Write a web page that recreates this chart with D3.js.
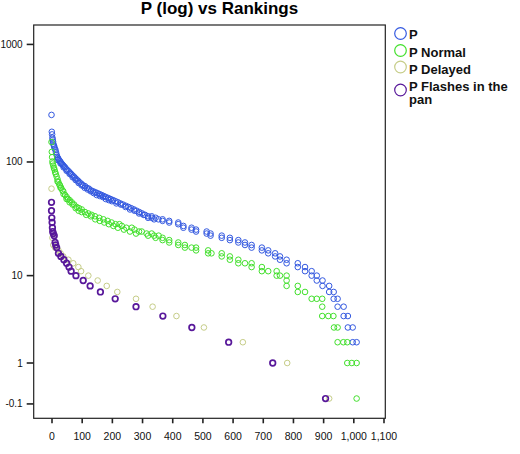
<!DOCTYPE html>
<html><head><meta charset="utf-8">
<script src="https://cdn.jsdelivr.net/npm/d3@7"></script>
<style>body{margin:0;background:#fff}svg{display:block}</style>
</head><body>
<script>
const pRank = [0,1,2,3,4,5,6,8,9,11,13,15,17,19,21,23,26,29,32,35,38,41,45,49,53,57,61,65,69,74,78,83,88,93,99,105,111,117,124,131,138,145,152,159,166,173,180,188,196,204,212,220,228,237,246,255,264,273,282,291,300,310,320,332,332,345,354,
 368,368,390,390,420,420,437,437,464,464,479,479,514,514,527,527,564,564,591,591,619,619,641,641,663,663,697,697,718,718,741,741,757,757,779,779,816,816,840,840,862,862,879,879,898,898,920,920,935,935,948,948,968,968,982,982,998,998,1011,
 20,30,40,50,60,70,80,90,100,110,120,130,140,150,160,170,180,190,200,215,230,245,260,275,290,305,320,340];
const pValue = [252,181,172,161,155,149,143,138,135,130,127,121,115,111,108,106,103,101,98,96,94,92,90,87,85,83,81,79,77,75,73,71,69,67,65,63,62,60,59,57,56,55,54,53,52,51,50,49,48,47,46,45,44,43,42,41,40,39,38,37,36,35,34,34,33,33,32,
 32,31,31,30,30,29,28,27,27,26,26,25,25,24,24,23,23,22,22,21,21,20,20,19,19,18,18,17,17,16,16,15,15,14,14,13,13,12,12,11,11,10,10,9,9,8,8,7,7,6,6,5,5,4,4,3,3,2,2,
 104,97,90,84,79,74,70,66,63,60,58,56,54,52,51,50,48,47,46,44,43,41,39,38,36,35,33,32];

const normalRank = [0,1,2,3,4,6,8,10,12,14,17,20,23,26,28,32,36,39,45,50,55,60,67,75,83,91,100,111,122,133,144,158,172,186,199,212,225,233,248,266,275,290,299,315,332,340,355,
 368,368,390,390,420,420,442,442,464,479,479,519,519,530,564,564,591,591,619,619,641,663,663,697,697,718,746,746,757,779,779,779,816,816,840,862,879,897,897,897,917,934,936,948,948,967,980,980,995,1011,1011,
 20,30,40,50,60,70,80,90,100,115,130,145,160,175,190,205,220,240,260,280,320,345];
const normalValue = [148,122,110,101,97,93,89,86,82,79,75,71,67,64,63,60,57,56,52,50,48,47,45,43,41,40,39,37,36,35,34,33,32,31,30,29,29,28,27,27,26,25,25,24,24,23,23,
 22,21,21,20,20,19,19,18,18,18,17,17,16,16,16,15,15,14,14,13,13,13,12,12,11,11,11,10,10,10,9,8,8,7,7,6,6,6,5,4,4,4,3,3,2,2,2,1,1,1,0,
 68,60,53,48,45,43,40,38,37,35,34,32,31,30,29,28,27,26,25,24,23,22];

const delayedRank = [0,3,6,12,23,30,39,56,72,89,98,122,153,183,218,280,335,414,505,634,781,920];
const delayedValue = [59,22,19,18,17,16,15,14,13,12,11,10,9,8,7,6,5,4,3,2,1,0];

const flashRank = [0,0,1,2,3,4,6,9,12,14,17,23,31,41,50,58,65,81,105,128,162,211,280,369,465,587,733,908];
const flashValue = [45,38,33,30,27,25,24,23,20,19,18,16,15,14,13,12,11,10,9,8,7,6,5,4,3,2,1,0];

const seriesNames = ["P","P Normal","P Delayed","P Flashes in the pan"];
const seriesColors = ["#3459e0","#42e02c","#c6cd88","#58189a"];
const xTicks = [0,100,200,300,400,500,600,700,800,900,1000,1100];
const yTicks = [1000,100,10,1,-0.1];
const yTickLabels = ["1000","100","10","1","-0.1"];

const W = 520, H = 454;
const svg = d3.select("body").append("svg").attr("width",W).attr("height",H)
  .style("font-family","'Liberation Sans', Arial, sans-serif");

const L = 33.7, R = 385.3, T = 25, B = 418.3;
const x = d3.scaleLinear().domain([-59,1106]).range([L,R]);
const yLog = d3.scaleLog().domain([0.68,1462]).range([B,T]);
const y = v => yLog(v + 1);

svg.append("text").attr("x",219.5).attr("y",14).attr("text-anchor","middle")
  .attr("font-weight","bold").attr("font-size",17).text("P (log) vs Rankings");

// frame
svg.append("rect").attr("x",L).attr("y",T).attr("width",R-L).attr("height",B-T)
  .attr("fill","none").attr("stroke","#222").attr("stroke-width",1.2);

// y axis
const yAxis = svg.append("g");
yTicks.forEach((t,i)=>{
  yAxis.append("line").attr("x1",L-7).attr("x2",L).attr("y1",y(t)).attr("y2",y(t))
    .attr("stroke","#222").attr("stroke-width",1.6);
  yAxis.append("text").attr("x",L-11).attr("y",y(t)).attr("dy","0.35em")
    .attr("text-anchor","end").attr("font-size",10).attr("fill","#111").text(yTickLabels[i]);
});

// x axis
const xAxis = d3.axisBottom(x).tickValues(xTicks).tickSize(5).tickPadding(9)
  .tickFormat(d3.format(","));
const gx = svg.append("g").attr("transform",`translate(0,${B})`).call(xAxis);
gx.select(".domain").remove();
gx.selectAll(".tick line").attr("stroke","#222").attr("stroke-width",1.6);
gx.selectAll(".tick text").attr("font-size",10.5).attr("fill","#111")
  .style("font-family","'Liberation Sans', Arial, sans-serif");

const series = [
  {r:pRank, v:pValue}, {r:normalRank, v:normalValue},
  {r:delayedRank, v:delayedValue}, {r:flashRank, v:flashValue}
];
series.forEach((s,k)=>{
  const pts = s.r.map((r,i)=>({r, v:s.v[i]}));
  svg.append("g").selectAll("circle").data(pts).join("circle")
    .attr("cx",d=>x(d.r)).attr("cy",d=>y(d.v)).attr("r",2.8)
    .attr("fill","none").attr("stroke",seriesColors[k])
    .attr("stroke-width",k===3?1.7:1);
});

// legend
const legCy = [33.5,50.5,67,90];
const legend = svg.append("g");
seriesNames.forEach((n,i)=>{
  legend.append("circle").attr("cx",400.5).attr("cy",legCy[i]).attr("r",5.8)
    .attr("fill","none").attr("stroke",seriesColors[i]).attr("stroke-width",1.2);
});
const legText = [["P"],["P Normal"],["P Delayed"],["P Flashes in the","pan"]];
const legBase = [[38.5],[57],[73.5],[90.5,104]];
legText.forEach((lines,i)=>{
  lines.forEach((ln,j)=>{
    legend.append("text").attr("x",409).attr("y",legBase[i][j]).attr("font-size",13)
      .attr("font-weight","bold").attr("fill","#111").text(ln);
  });
});
</script>
</body></html>
